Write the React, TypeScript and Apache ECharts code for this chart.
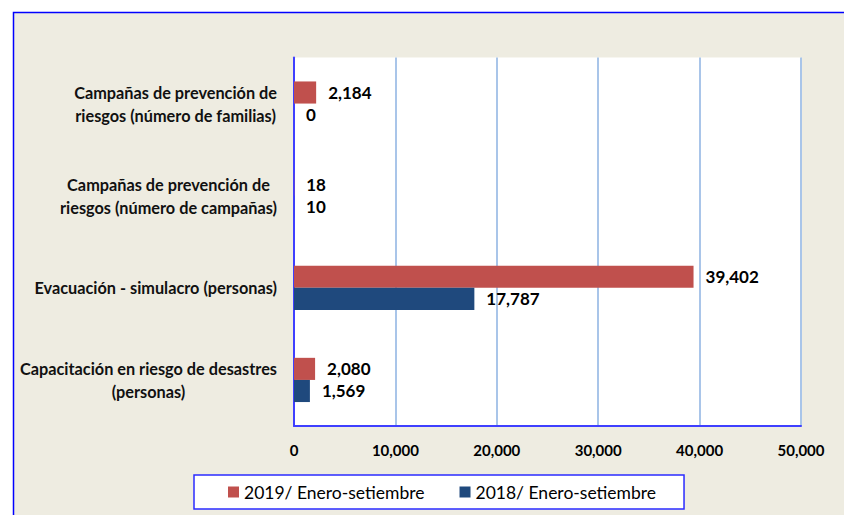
import React, { useEffect, useRef } from "react";
import * as echarts from "echarts";

const categories = [
  "Capacitación en riesgo de desastres\n(personas)",
  "Evacuación - simulacro (personas)",
  "Campañas de prevención de\nriesgos (número de campañas)",
  "Campañas de prevención de\nriesgos (número de familias)",
];
const series2019Name = "2019/ Enero-setiembre";
const series2018Name = "2018/ Enero-setiembre";
const values2019 = [2080, 39402, 18, 2184];
const values2018 = [1569, 17787, 10, 0];
const xTicks = { min: 0, max: 50000, interval: 10000 };

const FONT = "Lato, 'Open Sans', sans-serif";
const fmt = (v: number) => v.toLocaleString("en-US");

export default function App() {
  const ref = useRef<HTMLDivElement>(null);
  useEffect(() => {
    document.body.style.margin = "0";
    const chart = echarts.init(ref.current!, undefined, { renderer: "svg" });
    const labelStyle = {
      show: true,
      position: "right" as const,
      distance: 12,
      color: "#000",
      fontWeight: "bold" as const,
      fontSize: 17,
      fontFamily: FONT,
      formatter: (p: any) => fmt(p.value),
    };
    chart.setOption({
      animation: false,
      backgroundColor: "#ffffff",
      graphic: [
        {
          type: "rect",
          z: -10,
          silent: true,
          shape: { x: 13.5, y: 12.5, width: 850, height: 520 },
          style: { fill: "#EEECE1", stroke: "#0000FF", lineWidth: 1.5 },
        },
      ],
      grid: {
        show: true,
        backgroundColor: "#ffffff",
        borderWidth: 0,
        left: 294,
        right: 43,
        top: 57.5,
        bottom: 89,
      },
      legend: {
        data: [series2019Name, series2018Name],
        left: 194,
        top: 475,
        backgroundColor: "#ffffff",
        borderColor: "#2B2BFF",
        borderWidth: 1.5,
        borderRadius: 0,
        padding: [8, 28, 8, 34],
        icon: "rect",
        itemWidth: 11,
        itemHeight: 11,
        itemGap: 35,
        textStyle: { fontFamily: FONT, fontSize: 17.5, color: "#000" },
      },
      xAxis: {
        type: "value",
        min: xTicks.min,
        max: xTicks.max,
        interval: xTicks.interval,
        axisLine: { show: true, lineStyle: { color: "#3F3FFF", width: 2 } },
        axisTick: { show: false },
        splitLine: { show: true, lineStyle: { color: "#A9C5E9", width: 2 } },
        axisLabel: {
          margin: 16,
          color: "#000",
          fontWeight: "bold",
          fontSize: 15,
          fontFamily: FONT,
          formatter: (v: number) => fmt(v),
        },
      },
      yAxis: {
        type: "category",
        data: categories,
        axisLine: { show: true, lineStyle: { color: "#3F3FFF", width: 2 } },
        axisTick: { show: false },
        splitLine: { show: false },
        axisLabel: {
          margin: 17,
          align: "right",
          formatter: (v: string) =>
            v
              .split("\n")
              .map((l) => `{c|${l}}`)
              .join("\n"),
          rich: {
            c: {
              align: "center",
              color: "#111",
              fontWeight: "bold",
              fontSize: 16.3,
              lineHeight: 23,
              fontFamily: FONT,
            },
          },
        },
      },
      series: [
        {
          name: series2019Name,
          type: "bar",
          data: values2019,
          barGap: "0%",
          barCategoryGap: "52%",
          itemStyle: { color: "#C0504D" },
          label: labelStyle,
        },
        {
          name: series2018Name,
          type: "bar",
          data: values2018,
          barGap: "0%",
          barCategoryGap: "52%",
          itemStyle: { color: "#1F497D" },
          label: labelStyle,
        },
      ],
    });
    return () => chart.dispose();
  }, []);
  return <div ref={ref} style={{ width: 844, height: 515 }} />;
}
